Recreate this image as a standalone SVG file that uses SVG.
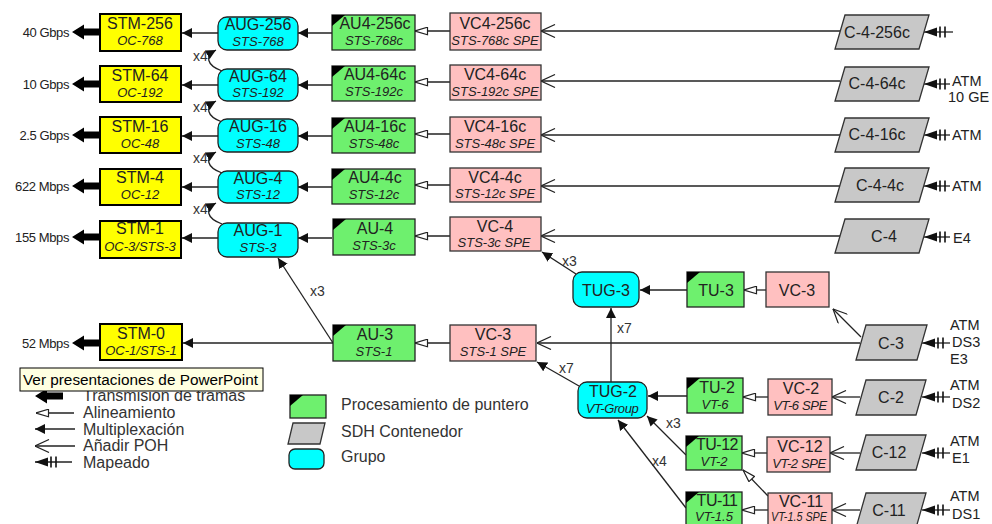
<svg xmlns="http://www.w3.org/2000/svg" width="992" height="524" viewBox="0 0 992 524">
<defs>
  <style>
    text { font-family: "Liberation Sans", Arial, sans-serif; fill: #222; }
    .t1 { font-size: 16px; text-anchor: middle; }
    .t2 { font-size: 13px; font-style: italic; text-anchor: middle; }
    .rate { font-size: 13px; text-anchor: end; letter-spacing: -0.4px; }
    .sig { font-size: 14.5px; }
    .mul { font-size: 14px; fill: #333; }
    .leg { font-size: 16px; fill: #333; }
    .stm { fill: #ffff00; stroke: #000; stroke-width: 2; }
    .aug { fill: #00ffff; stroke: #222; stroke-width: 1.3; }
    .au { fill: #6ef06e; stroke: #222; stroke-width: 1.3; }
    .vc { fill: #ffc0c0; stroke: #333; stroke-width: 1.3; }
    .cc { fill: #c8c8c8; stroke: #333; stroke-width: 1.3; }
    .ln { fill: none; stroke: #222; stroke-width: 1.3; }
    .m-mux { marker-end: url(#mux); }
    .m-al { marker-end: url(#align); }
    .m-poh { marker-end: url(#poh); }
    .m-map { marker-end: url(#map); }
  </style>
  <!-- Multiplexación: filled head -->
  <marker id="mux" viewBox="0 0 10 10" refX="10" refY="5" markerWidth="10" markerHeight="10" orient="auto" markerUnits="userSpaceOnUse">
    <path d="M0,0 L10,5 L0,10 z" fill="#111"/>
  </marker>
  <!-- Alineamiento: open triangle -->
  <marker id="align" viewBox="0 0 14 9" refX="13.5" refY="4.5" markerWidth="14" markerHeight="9" orient="auto" markerUnits="userSpaceOnUse">
    <path d="M13.5,4.5 L1,0.7 L1,8.3 z" fill="#fff" stroke="#222" stroke-width="1.2"/>
  </marker>
  <!-- Añadir POH: open V head -->
  <marker id="poh" viewBox="0 0 15 14" refX="14.5" refY="7" markerWidth="15" markerHeight="14" orient="auto" markerUnits="userSpaceOnUse">
    <path d="M0.5,0.5 L14.5,7 L0.5,13.5" fill="none" stroke="#222" stroke-width="1.2"/>
  </marker>
  <!-- Mapeado: filled head with two ticks -->
  <marker id="map" viewBox="0 0 24 12" refX="24" refY="6" markerWidth="24" markerHeight="12" orient="auto" markerUnits="userSpaceOnUse">
    <path d="M24,6 L11,1.5 L11,10.5 z" fill="#111"/>
    <path d="M8,0.5 V11.5 M3,0.5 V11.5" stroke="#111" stroke-width="1.6"/>
  </marker>
  <!-- Transmisión de tramas: heavy arrow, tip at origin -->
  <path id="tx" d="M0,0 L12,-7.5 L12,-3.5 L28,-3.5 L28,3.5 L12,3.5 L12,7.5 z" fill="#000"/>
  <path id="corner" d="M0,0 H13 L0,11 z" fill="#000"/>
</defs>

<rect width="992" height="524" fill="#fff"/>

<!-- ===== connectors ===== -->
<g id="connectors">
  <!-- heavy transmission arrows -->
  <use href="#tx" x="72" y="32"/>
  <use href="#tx" x="72" y="84"/>
  <use href="#tx" x="72" y="135"/>
  <use href="#tx" x="72" y="186"/>
  <use href="#tx" x="72" y="237"/>
  <use href="#tx" x="72" y="343"/>

  <!-- AUG -> STM -->
  <line class="ln m-mux" x1="218" y1="33" x2="182" y2="33"/>
  <line class="ln m-mux" x1="218" y1="85" x2="182" y2="85"/>
  <line class="ln m-mux" x1="218" y1="136" x2="182" y2="136"/>
  <line class="ln m-mux" x1="218" y1="187" x2="182" y2="187"/>
  <line class="ln m-mux" x1="218" y1="238" x2="182" y2="238"/>

  <!-- AU -> AUG -->
  <line class="ln m-mux" x1="332" y1="33" x2="298" y2="33"/>
  <line class="ln m-mux" x1="332" y1="85" x2="298" y2="85"/>
  <line class="ln m-mux" x1="332" y1="136" x2="298" y2="136"/>
  <line class="ln m-mux" x1="332" y1="187" x2="298" y2="187"/>
  <line class="ln m-mux" x1="332" y1="238" x2="298" y2="238"/>

  <!-- VC -> AU -->
  <line class="ln m-al" x1="450" y1="31" x2="415" y2="31"/>
  <line class="ln m-al" x1="450" y1="82" x2="415" y2="82"/>
  <line class="ln m-al" x1="450" y1="134" x2="415" y2="134"/>
  <line class="ln m-al" x1="450" y1="185" x2="415" y2="185"/>
  <line class="ln m-al" x1="450" y1="236" x2="415" y2="236"/>

  <!-- C -> VC -->
  <line class="ln m-poh" x1="840" y1="31" x2="541" y2="31"/>
  <line class="ln m-poh" x1="840" y1="81" x2="541" y2="81"/>
  <line class="ln m-poh" x1="840" y1="135" x2="541" y2="135"/>
  <line class="ln m-poh" x1="840" y1="186" x2="541" y2="186"/>
  <line class="ln m-poh" x1="840" y1="236" x2="541" y2="236"/>

  <!-- mapping into containers -->
  <line class="ln m-map" x1="953" y1="32" x2="924" y2="32"/>
  <line class="ln m-map" x1="950" y1="84" x2="924" y2="84"/>
  <line class="ln m-map" x1="950" y1="135" x2="924" y2="135"/>
  <line class="ln m-map" x1="950" y1="186" x2="924" y2="186"/>
  <line class="ln m-map" x1="950" y1="237" x2="924" y2="237"/>
  <line class="ln m-map" x1="950" y1="343" x2="922" y2="343"/>
  <line class="ln m-map" x1="950" y1="397" x2="922" y2="397"/>
  <line class="ln m-map" x1="950" y1="453" x2="922" y2="453"/>
  <line class="ln m-map" x1="950" y1="510" x2="922" y2="510"/>

  <!-- x4 AUG stacking -->
  <path class="ln m-mux" d="M222,71 C206,65 205,56 216,50"/>
  <path class="ln m-mux" d="M222,122 C206,116 205,107 216,101"/>
  <path class="ln m-mux" d="M222,173 C206,167 205,158 216,152"/>
  <path class="ln m-mux" d="M222,224 C206,218 205,209 216,203"/>

  <!-- lower section -->
  <line class="ln m-mux" x1="576" y1="274" x2="542" y2="252"/>
  <line class="ln m-mux" x1="687" y1="290" x2="640" y2="290"/>
  <line class="ln m-al" x1="766" y1="290" x2="744" y2="290"/>
  <line class="ln m-poh" x1="861" y1="337" x2="833" y2="309"/>
  <line class="ln m-poh" x1="860" y1="343" x2="537" y2="343"/>
  <line class="ln m-al" x1="450" y1="343" x2="415" y2="343"/>
  <line class="ln m-mux" x1="333" y1="343" x2="183" y2="343"/>
  <line class="ln m-mux" x1="333" y1="343" x2="278" y2="258"/>
  <line class="ln m-mux" x1="611" y1="382" x2="611" y2="308"/>
  <line class="ln m-mux" x1="579" y1="386" x2="537" y2="362"/>
  <line class="ln m-mux" x1="687" y1="396" x2="648" y2="396"/>
  <line class="ln m-al" x1="768" y1="397" x2="743" y2="397"/>
  <line class="ln m-poh" x1="860" y1="397" x2="832" y2="397"/>
  <line class="ln m-mux" x1="686" y1="455" x2="647" y2="416"/>
  <line class="ln m-mux" x1="686" y1="508" x2="618" y2="420"/>
  <line class="ln m-al" x1="767" y1="453" x2="742" y2="453"/>
  <line class="ln m-poh" x1="860" y1="453" x2="830" y2="453"/>
  <line class="ln m-al" x1="768" y1="496" x2="743" y2="470"/>
  <line class="ln m-al" x1="768" y1="510" x2="742" y2="510"/>
  <line class="ln m-poh" x1="860" y1="510" x2="832" y2="510"/>

  <!-- multiplicity labels -->
  <text class="mul" x="193" y="61" font-size="13">x4</text>
  <text class="mul" x="193" y="112" font-size="13">x4</text>
  <text class="mul" x="193" y="163" font-size="13">x4</text>
  <text class="mul" x="193" y="214" font-size="13">x4</text>
  <text class="mul" x="310" y="296">x3</text>
  <text class="mul" x="562" y="266">x3</text>
  <text class="mul" x="617" y="333">x7</text>
  <text class="mul" x="559" y="373">x7</text>
  <text class="mul" x="666" y="428">x3</text>
  <text class="mul" x="652" y="466">x4</text>
</g>

<!-- ===== rate labels ===== -->
<g id="rates">
  <text class="rate" x="69" y="37">40 Gbps</text>
  <text class="rate" x="69" y="89">10 Gbps</text>
  <text class="rate" x="69" y="140">2.5 Gbps</text>
  <text class="rate" x="69" y="191">622 Mbps</text>
  <text class="rate" x="69" y="242">155 Mbps</text>
  <text class="rate" x="69" y="348">52 Mbps</text>
</g>

<!-- ===== STM nodes ===== -->
<g id="stm-256"><rect class="stm" x="100" y="14" width="81" height="37"/><text class="t1" x="140" y="29">STM-256</text><text class="t2" x="140" y="45">OC-768</text></g>
<g id="stm-64"><rect class="stm" x="100" y="66" width="81" height="36"/><text class="t1" x="140" y="81">STM-64</text><text class="t2" x="140" y="97">OC-192</text></g>
<g id="stm-16"><rect class="stm" x="100" y="117" width="81" height="36"/><text class="t1" x="140" y="132">STM-16</text><text class="t2" x="140" y="148">OC-48</text></g>
<g id="stm-4"><rect class="stm" x="100" y="169" width="81" height="36"/><text class="t1" x="140" y="183">STM-4</text><text class="t2" x="140" y="199">OC-12</text></g>
<g id="stm-1"><rect class="stm" x="100" y="221" width="81" height="37"/><text class="t1" x="140" y="234">STM-1</text><text class="t2" x="140" y="251">OC-3/STS-3</text></g>
<g id="stm-0"><rect class="stm" x="100" y="324" width="82" height="36"/><text class="t1" x="141" y="339">STM-0</text><text class="t2" x="141" y="355">OC-1/STS-1</text></g>

<!-- ===== AUG nodes ===== -->
<g id="aug-256"><rect class="aug" x="218" y="17" width="80" height="33" rx="9"/><text class="t1" x="258" y="30">AUG-256</text><text class="t2" x="258" y="46">STS-768</text></g>
<g id="aug-64"><rect class="aug" x="218" y="69" width="80" height="32" rx="9"/><text class="t1" x="258" y="82">AUG-64</text><text class="t2" x="258" y="97">STS-192</text></g>
<g id="aug-16"><rect class="aug" x="218" y="119" width="80" height="33" rx="9"/><text class="t1" x="258" y="132">AUG-16</text><text class="t2" x="258" y="148">STS-48</text></g>
<g id="aug-4"><rect class="aug" x="218" y="171" width="80" height="32" rx="9"/><text class="t1" x="258" y="184">AUG-4</text><text class="t2" x="258" y="199">STS-12</text></g>
<g id="aug-1"><rect class="aug" x="218" y="223" width="80" height="34" rx="9"/><text class="t1" x="258" y="236">AUG-1</text><text class="t2" x="258" y="252">STS-3</text></g>

<!-- ===== AU nodes ===== -->
<g id="au4-256c"><rect class="au" x="332" y="15" width="83" height="35"/><use href="#corner" x="332" y="15"/><text class="t1" x="375" y="29">AU4-256c</text><text class="t2" x="374" y="45">STS-768c</text></g>
<g id="au4-64c"><rect class="au" x="332" y="66" width="83" height="35"/><use href="#corner" x="332" y="66"/><text class="t1" x="375" y="80">AU4-64c</text><text class="t2" x="374" y="96">STS-192c</text></g>
<g id="au4-16c"><rect class="au" x="332" y="118" width="83" height="35"/><use href="#corner" x="332" y="118"/><text class="t1" x="375" y="132">AU4-16c</text><text class="t2" x="374" y="148">STS-48c</text></g>
<g id="au4-4c"><rect class="au" x="332" y="169" width="83" height="35"/><use href="#corner" x="332" y="169"/><text class="t1" x="375" y="183">AU4-4c</text><text class="t2" x="374" y="199">STS-12c</text></g>
<g id="au-4"><rect class="au" x="333" y="219" width="82" height="36"/><use href="#corner" x="333" y="219"/><text class="t1" x="375" y="234">AU-4</text><text class="t2" x="374" y="250">STS-3c</text></g>
<g id="au-3"><rect class="au" x="333" y="325" width="82" height="36"/><use href="#corner" x="333" y="325"/><text class="t1" x="375" y="340">AU-3</text><text class="t2" x="374" y="356">STS-1</text></g>

<!-- ===== VC nodes ===== -->
<g id="vc4-256c"><rect class="vc" x="450" y="13" width="91" height="37"/><text class="t1" x="495" y="29">VC4-256c</text><text class="t2" x="495" y="45">STS-768c SPE</text></g>
<g id="vc4-64c"><rect class="vc" x="450" y="65" width="91" height="35"/><text class="t1" x="495" y="80">VC4-64c</text><text class="t2" x="495" y="96">STS-192c SPE</text></g>
<g id="vc4-16c"><rect class="vc" x="450" y="117" width="91" height="35"/><text class="t1" x="495" y="132">VC4-16c</text><text class="t2" x="495" y="148">STS-48c SPE</text></g>
<g id="vc4-4c"><rect class="vc" x="450" y="168" width="91" height="34"/><text class="t1" x="495" y="183">VC4-4c</text><text class="t2" x="495" y="198">STS-12c SPE</text></g>
<g id="vc-4"><rect class="vc" x="450" y="217" width="91" height="34"/><text class="t1" x="495" y="232">VC-4</text><text class="t2" x="494" y="247">STS-3c SPE</text></g>
<g id="vc-3-au"><rect class="vc" x="450" y="325" width="86" height="36"/><text class="t1" x="493" y="340">VC-3</text><text class="t2" x="493" y="356">STS-1 SPE</text></g>

<!-- ===== container nodes ===== -->
<g id="c-4-256c"><polygon class="cc" points="845,15 929,15 919,49 835,49"/><text class="t1" x="877" y="38">C-4-256c</text></g>
<g id="c-4-64c"><polygon class="cc" points="845,67 929,67 919,101 835,101"/><text class="t1" x="877" y="89">C-4-64c</text></g>
<g id="c-4-16c"><polygon class="cc" points="845,118 929,118 919,152 835,152"/><text class="t1" x="877" y="140">C-4-16c</text></g>
<g id="c-4-4c"><polygon class="cc" points="845,168 929,168 919,202 835,202"/><text class="t1" x="880" y="191">C-4-4c</text></g>
<g id="c-4"><polygon class="cc" points="845,219 929,219 919,253 835,253"/><text class="t1" x="884" y="242">C-4</text></g>
<g id="c-3"><polygon class="cc" points="866,325 927,325 917,360 856,360"/><text class="t1" x="891" y="349">C-3</text></g>
<g id="c-2"><polygon class="cc" points="866,380 926,380 916,415 856,415"/><text class="t1" x="891" y="403">C-2</text></g>
<g id="c-12"><polygon class="cc" points="866,435 926,435 916,470 856,470"/><text class="t1" x="889" y="458">C-12</text></g>
<g id="c-11"><polygon class="cc" points="866,493 926,493 916,528 856,528"/><text class="t1" x="889" y="516">C-11</text></g>

<!-- ===== tributary section ===== -->
<g id="tug-3"><rect class="aug" x="573" y="272" width="66" height="35" rx="9"/><text class="t1" x="606" y="296">TUG-3</text></g>
<g id="tu-3"><rect class="au" x="687" y="272" width="57" height="35"/><use href="#corner" x="687" y="272"/><text class="t1" x="716" y="296">TU-3</text></g>
<g id="vc-3-tu"><rect class="vc" x="766" y="272" width="63" height="35"/><text class="t1" x="797" y="296">VC-3</text></g>
<g id="tug-2"><rect class="aug" x="578" y="382" width="69" height="36" rx="9"/><text class="t1" x="613" y="397">TUG-2</text><text class="t2" x="612" y="413" font-size="13.5" letter-spacing="-0.4">VT-Group</text></g>
<g id="tu-2"><rect class="au" x="687" y="378" width="56" height="35"/><use href="#corner" x="687" y="378"/><text class="t1" x="717" y="393">TU-2</text><text class="t2" x="715" y="409" font-size="15.5">VT-6</text></g>
<g id="vc-2"><rect class="vc" x="768" y="379" width="64" height="36"/><text class="t1" x="801" y="394">VC-2</text><text class="t2" x="800" y="410" font-size="12" letter-spacing="-0.4">VT-6 SPE</text></g>
<g id="tu-12"><rect class="au" x="686" y="436" width="56" height="34"/><use href="#corner" x="686" y="436"/><text class="t1" x="717" y="450" font-size="15" letter-spacing="-0.5">TU-12</text><text class="t2" x="714" y="466" font-size="15.5">VT-2</text></g>
<g id="vc-12"><rect class="vc" x="767" y="437" width="63" height="35"/><text class="t1" x="800" y="452">VC-12</text><text class="t2" x="799" y="468" font-size="12" letter-spacing="-0.4">VT-2 SPE</text></g>
<g id="tu-11"><rect class="au" x="686" y="492" width="56" height="36"/><use href="#corner" x="686" y="492"/><text class="t1" x="717" y="506" font-size="15" letter-spacing="-0.5">TU-11</text><text class="t2" x="714" y="521" font-size="15">VT-1.5</text></g>
<g id="vc-11"><rect class="vc" x="768" y="493" width="64" height="36"/><text class="t1" x="801" y="507">VC-11</text><text class="t2" x="799" y="521" font-size="12" textLength="56" lengthAdjust="spacingAndGlyphs">VT-1.5 SPE</text></g>

<!-- ===== client signals ===== -->
<g id="signals">
  <text class="sig" x="952" y="86">ATM</text>
  <text class="sig" x="948" y="102">10 GE</text>
  <text class="sig" x="952" y="140">ATM</text>
  <text class="sig" x="952" y="191">ATM</text>
  <text class="sig" x="953" y="243">E4</text>
  <text class="sig" x="950" y="330">ATM</text>
  <text class="sig" x="952" y="347">DS3</text>
  <text class="sig" x="950" y="364">E3</text>
  <text class="sig" x="950" y="390">ATM</text>
  <text class="sig" x="952" y="408">DS2</text>
  <text class="sig" x="950" y="446">ATM</text>
  <text class="sig" x="952" y="463">E1</text>
  <text class="sig" x="950" y="501">ATM</text>
  <text class="sig" x="952" y="519">DS1</text>
</g>

<!-- ===== legend ===== -->
<g id="legend-arrows">
  <use href="#tx" x="35" y="396"/>
  <line class="ln" x1="74" y1="413" x2="36" y2="413" marker-end="url(#align)"/>
  <line class="ln" x1="75" y1="429" x2="35" y2="429" marker-end="url(#mux)"/>
  <line class="ln" x1="75" y1="446" x2="35" y2="446" marker-end="url(#poh)"/>
  <line class="ln" x1="72" y1="462" x2="35" y2="462" marker-end="url(#map)"/>
  <text class="leg" x="83" y="401">Transmisión de tramas</text>
  <text class="leg" x="83" y="418">Alineamiento</text>
  <text class="leg" x="83" y="435">Multiplexación</text>
  <text class="leg" x="83" y="451">Añadir POH</text>
  <text class="leg" x="83" y="468">Mapeado</text>
</g>
<g id="legend-shapes">
  <rect class="au" x="290" y="395" width="36" height="23"/><use href="#corner" x="290" y="395"/>
  <polygon class="cc" points="293,423 325,423 320,444 288,444"/>
  <rect class="aug" x="289" y="449" width="35" height="20" rx="6"/>
  <text class="leg" x="341" y="410">Procesamiento de puntero</text>
  <text class="leg" x="341" y="437">SDH Contenedor</text>
  <text class="leg" x="341" y="462">Grupo</text>
</g>

<!-- tooltip over the legend -->
<g id="tooltip">
  <rect x="20" y="368" width="243" height="23" fill="#ffffe1" stroke="#000" stroke-width="1"/>
  <text x="23" y="385" font-family="'DejaVu Sans', sans-serif" font-size="14" style="fill:#000" textLength="235" lengthAdjust="spacingAndGlyphs">Ver presentaciones de PowerPoint</text>
</g>
</svg>
